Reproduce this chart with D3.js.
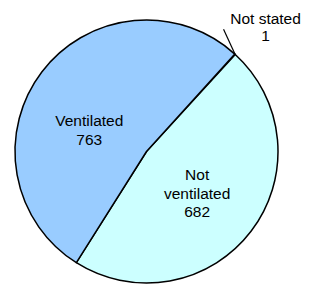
<!DOCTYPE html>
<html>
<head>
<meta charset="utf-8">
<script src="https://cdn.jsdelivr.net/npm/d3@7"></script>
<style>
  html, body { margin: 0; padding: 0; background: #fff; }
  svg text { font-family: Arial, "Liberation Sans", sans-serif; fill: #000; }
</style>
</head>
<body>
<div id="chart"></div>
<script>
// data
const categories = ["Not stated", "Not ventilated", "Ventilated"];
const counts = [1, 682, 763];
const colours = ["#ffffff", "#ccffff", "#99ccff"];

(() => {
  const width = 316, height = 284;
  const cx = 146.5, cy = 151.5, r = 131.5;
  const start = 42.2 * Math.PI / 180;

  const svg = d3.select("#chart").append("svg")
    .attr("width", width)
    .attr("height", height);

  const g = svg.append("g").attr("transform", `translate(${cx},${cy})`);

  const pie = d3.pie().sort(null).value(d => d.v)
    .startAngle(start).endAngle(start + 2 * Math.PI);
  const arcs = pie(categories.map((c, i) => ({ name: c, v: counts[i], col: colours[i] })));
  const arc = d3.arc().innerRadius(0).outerRadius(r);

  g.selectAll("path.slice")
    .data(arcs)
    .join("path")
    .attr("class", "slice")
    .attr("d", arc)
    .attr("fill", d => d.data.col)
    .attr("stroke", "#000")
    .attr("stroke-width", 1.5)
    .attr("stroke-linejoin", "round");

  // label placement: centroid of a label arc, nudged per slice (layout, not data)
  const labelArc = d3.arc().innerRadius(r * 0.47).outerRadius(r * 0.47);
  const nudge = {
    "Ventilated": { dx: -8, dy: 16, lines: ["Ventilated", "763"] },
    "Not ventilated": { dx: 1.5, dy: 4, lines: ["Not", "ventilated", "682"] }
  };
  const fs = 15.5, lh = 18.7;

  arcs.filter(d => nudge[d.data.name]).forEach(d => {
    const [x, y] = labelArc.centroid(d);
    const n = nudge[d.data.name];
    const lines = [...n.lines.slice(0, -1), String(d.data.v)];
    const t = g.append("text")
      .attr("text-anchor", "middle")
      .style("font-size", fs + "px");
    const y0 = y + n.dy - (lines.length - 1) * lh / 2 + fs * 0.36;
    lines.forEach((s, i) => {
      t.append("tspan").attr("x", x + n.dx).attr("y", y0 + i * lh).text(s);
    });
  });

  // small slice: leader line outside the pie
  const ns = arcs.find(d => d.data.name === "Not stated");
  const mid = (ns.startAngle + ns.endAngle) / 2;
  const p0 = [r * Math.sin(mid), -r * Math.cos(mid)];
  const p1 = [p0[0] - 11.5, p0[1] - 25];
  g.append("line")
    .attr("x1", p0[0]).attr("y1", p0[1])
    .attr("x2", p1[0]).attr("y2", p1[1])
    .attr("stroke", "#000")
    .attr("stroke-width", 1.2);

  const nt = g.append("text")
    .attr("text-anchor", "middle")
    .style("font-size", fs + "px");
  nt.append("tspan").attr("x", p1[0] + 42).attr("y", p1[1] - 5.5).text("Not stated");
  nt.append("tspan").attr("x", p1[0] + 42).attr("y", p1[1] + 11.3).text(String(ns.data.v));
})();
</script>
</body>
</html>
